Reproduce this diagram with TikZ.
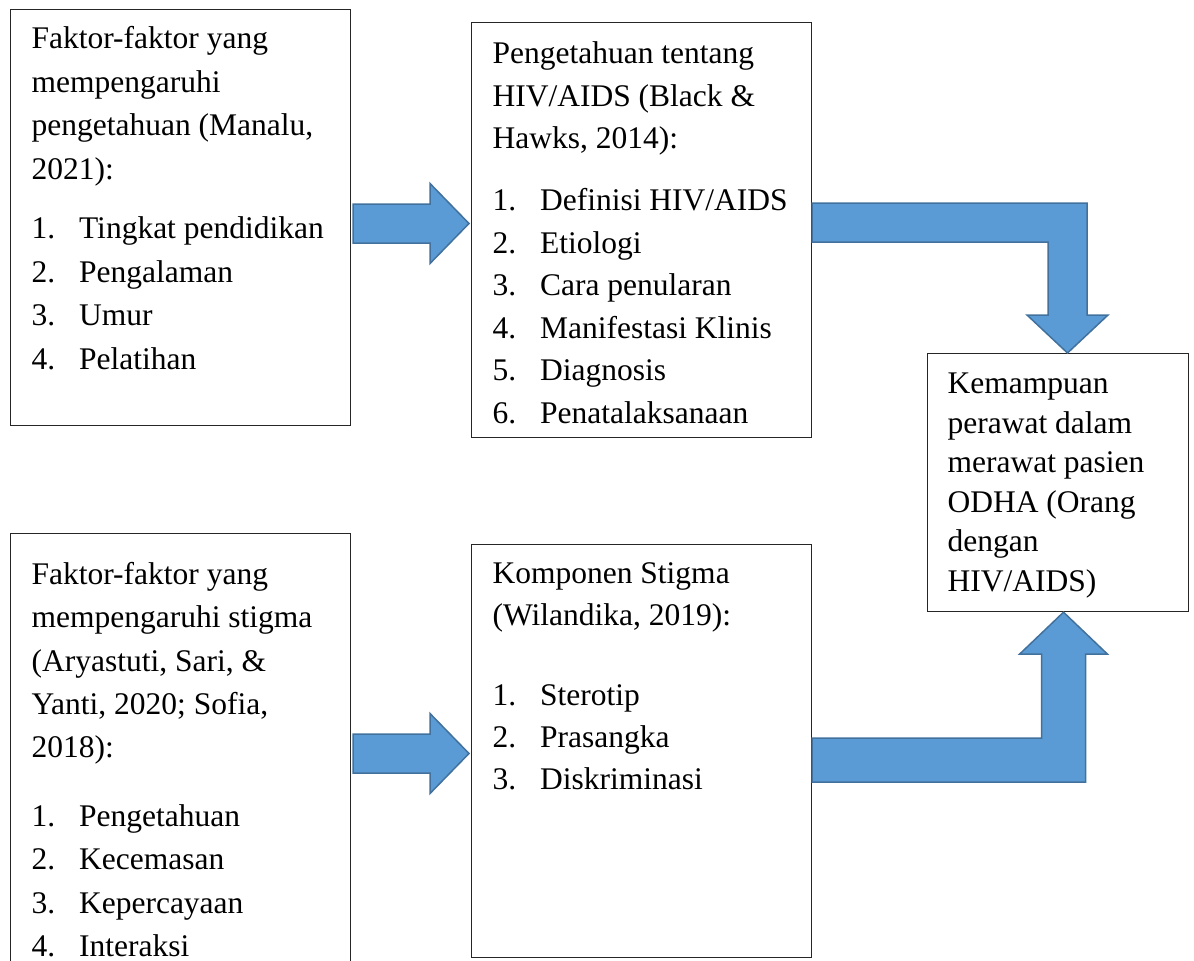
\documentclass[tikz,border=0pt]{standalone}
\usepackage{fontspec}
\setmainfont{Liberation Serif}
\usetikzlibrary{calc}

\definecolor{arrowfill}{HTML}{5B9BD5}
\definecolor{arrowline}{HTML}{41719C}

% numbered line: number, text
\newcommand{\itm}[2]{\mbox{\makebox[47.5pt][l]{#1.}#2}}
% height, width, baselineskip, top gap, text
\newcommand{\boxbody}[5]{\parbox[t][#1][t]{#2}{\fontsize{31.5}{#3}\selectfont\raggedright\vspace*{#4}\strut#5}}

\begin{document}
\begin{tikzpicture}[x=1pt,y=-1pt,
    frame/.style={draw=black!85, line width=1.2pt, inner xsep=21pt, inner ysep=0pt, anchor=north west},
    blockarrow/.style={fill=arrowfill, draw=arrowline, line width=1.5pt, line join=miter}]
    \useasboundingbox (0,0) rectangle (1194,961);
    \clip (0,0) rectangle (1194,961);

    %boxes:
    \node[frame] (fA) at (10,9) {\boxbody{416pt}{298pt}{43.5pt}{8.55pt}{Faktor-faktor yang\\ mempengaruhi\\ pengetahuan (Manalu,\\ 2021):\\[16pt]
        \itm{1}{Tingkat pendidikan}\\ \itm{2}{Pengalaman}\\ \itm{3}{Umur}\\ \itm{4}{Pelatihan}}};
    \node[frame] (fB) at (471,22) {\boxbody{415pt}{298pt}{42.5pt}{11.25pt}{Pengetahuan tentang\\ HIV/AIDS (Black \&\\ Hawks, 2014):\\[19.5pt]
        \itm{1}{Definisi HIV/AIDS}\\ \itm{2}{Etiologi}\\ \itm{3}{Cara penularan}\\ \itm{4}{Manifestasi Klinis}\\ \itm{5}{Diagnosis}\\ \itm{6}{Penatalaksanaan}}};
    \node[frame, inner xsep=20pt] (fC) at (927,353) {\boxbody{258pt}{221pt}{39.5pt}{12.35pt}{Kemampuan\\ perawat dalam\\ merawat pasien\\ ODHA (Orang\\ dengan\\ HIV/AIDS)}};
    \node[frame] (fD) at (10,533) {\boxbody{440pt}{298pt}{43.3pt}{20.7pt}{Faktor-faktor yang\\ mempengaruhi stigma\\ (Aryastuti, Sari, \&\\ Yanti, 2020; Sofia,\\ 2018):\\[25.5pt]
        \itm{1}{Pengetahuan}\\ \itm{2}{Kecemasan}\\ \itm{3}{Kepercayaan}\\ \itm{4}{Interaksi}}};
    \node[frame] (fE) at (471,544) {\boxbody{413pt}{298pt}{42pt}{9.6pt}{Komponen Stigma\\ (Wilandika, 2019):\\[38pt]
        \itm{1}{Sterotip}\\ \itm{2}{Prasangka}\\ \itm{3}{Diskriminasi}}};

    %straight arrows:
    \foreach \a/\b/\yc in {fA/fB/223.5, fD/fE/753.5}{
        \draw[blockarrow] let \p1=(\a.east |- 0,\yc), \p2=(\b.west |- 0,\yc) in
            (\x1+2pt,\y1+19.5pt) -- (\x2-41pt,\y1+19.5pt) -- (\x2-41pt,\y1+40pt)
            -- (\x2-2pt,\y1) -- (\x2-41pt,\y1-40pt) -- (\x2-41pt,\y1-19.5pt)
            -- (\x1+2pt,\y1-19.5pt) -- cycle;
    }

    %bent arrows:
    \draw[blockarrow] let \p1=(fB.east |- 0,222.5), \p2=(1067.5,0 |- fC.north) in
        (\x1,\y1+19.5pt) -- (\x2+19.5pt,\y1+19.5pt) -- (\x2+19.5pt,\y2+38pt) -- (\x2+40.5pt,\y2+38pt)
        -- (\p2) -- (\x2-40.5pt,\y2+38pt) -- (\x2-19.5pt,\y2+38pt) -- (\x2-19.5pt,\y1-19.5pt)
        -- (\x1,\y1-19.5pt) -- cycle;
    \draw[blockarrow] let \p1=(fE.east |- 0,760), \p2=(1063.5,0 |- fC.south) in
        (\x1,\y1-22pt) -- (\x2+22pt,\y1-22pt) -- (\x2+22pt,\y2-42pt) -- (\x2+44pt,\y2-42pt)
        -- (\p2) -- (\x2-44pt,\y2-42pt) -- (\x2-22pt,\y2-42pt) -- (\x2-22pt,\y1+22pt)
        -- (\x1,\y1+22pt) -- cycle;
\end{tikzpicture}
\end{document}
